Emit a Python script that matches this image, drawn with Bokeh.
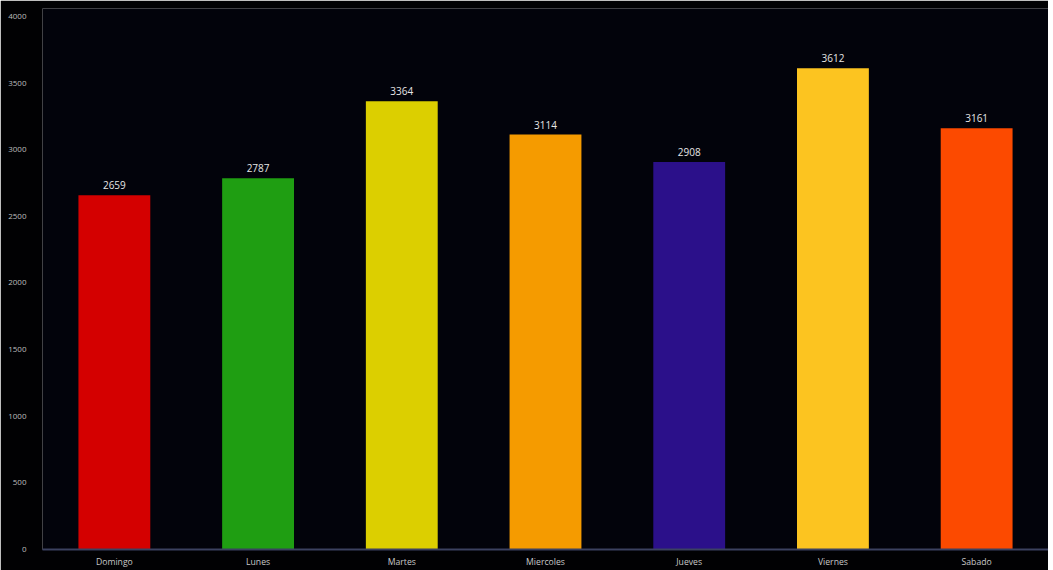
from bokeh.plotting import figure
from bokeh.models import ColumnDataSource, Range1d, FixedTicker
from bokeh.core.properties import value
from bokeh.embed import file_html
from bokeh.resources import INLINE

days = ["Domingo", "Lunes", "Martes", "Miercoles", "Jueves", "Viernes", "Sabado"]
counts = [2659, 2787, 3364, 3114, 2908, 3612, 3161]
colors = ["#d40000", "#1f9e12", "#dccf00", "#f59b00", "#2b108a", "#fcc420", "#fc4a00"]
y_ticks = [0, 500, 1000, 1500, 2000, 2500, 3000, 3500, 4000]

src = ColumnDataSource(dict(day=days, count=counts, color=colors,
                            label=[str(c) for c in counts]))

p = figure(x_range=days, y_range=Range1d(0, 4060), width=1048, height=570,
           output_backend="svg", toolbar_location=None,
           background_fill_color="#02030b", border_fill_color="#010103",
           min_border_left=42, min_border_right=0, min_border_top=8, min_border_bottom=0,
           outline_line_color=None)

p.vbar(x="day", top="count", width=0.5, fill_color="color", line_color=None, source=src)
p.text(x="day", y="count", text="label", source=src, text_align="center",
       text_baseline="bottom", y_offset=-6, text_font_size="7.5pt",
       text_color="#e6e6e6", text_font=value("Open Sans"))

p.xgrid.grid_line_color = None
p.ygrid.grid_line_color = None
p.yaxis.ticker = FixedTicker(ticks=y_ticks)
p.yaxis.axis_line_color = None
p.yaxis.major_tick_line_color = None
p.yaxis.minor_tick_line_color = None
p.yaxis.major_label_text_font_size = "6pt"
p.yaxis.major_label_text_color = "#bdbdbd"
p.yaxis.major_label_text_font = "Open Sans"
p.yaxis.major_label_standoff = 10
p.xaxis.axis_line_color = "#3b4160"
p.xaxis.axis_line_width = 2
p.xaxis.major_tick_line_color = None
p.xaxis.minor_tick_line_color = None
p.xaxis.major_label_text_font_size = "6.5pt"
p.xaxis.major_label_text_color = "#c8c8c8"
p.xaxis.major_label_text_font = "Open Sans"
p.xaxis.major_label_standoff = 0

open("out.html", "w").write(file_html(p, INLINE))
